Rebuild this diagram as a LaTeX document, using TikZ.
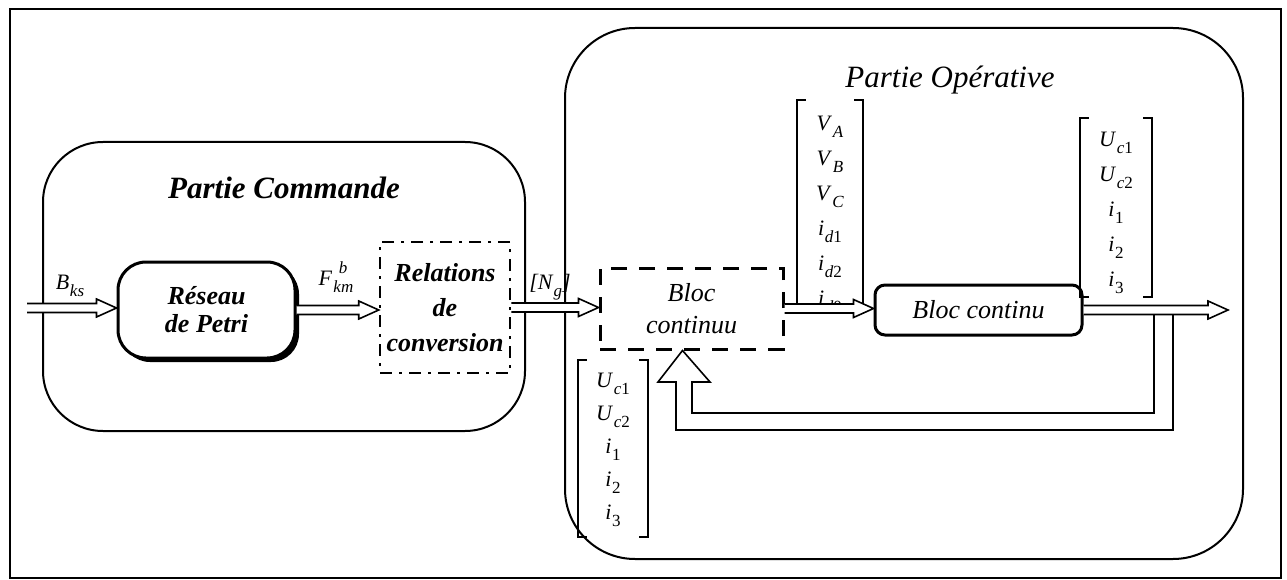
\documentclass[tikz,border=0pt]{standalone}
\usepackage{fontspec}
\setmainfont{Liberation Serif}
\usetikzlibrary{calc}
\newcommand{\fsz}[2]{\fontsize{#1}{#2}\selectfont}
\newcommand{\myvar}[2]{\textit{#1}\kern0.03em\raisebox{-0.3em}{\fsz{17}{17}#2}}
\begin{document}
\begin{tikzpicture}[x=1pt,y=-1pt,
  framebox/.style={line width=2.5pt},
  partbox/.style={line width=2pt, rounded corners=#1},
  blk/.style={draw, line width=3pt, align=center, inner sep=0pt, fill=white},
  hollow/.style={draw, fill=white, line width=1.6pt, line join=miter,
    to path={let \p1=(\tikztostart), \p2=(\tikztotarget) in
      (\x1,\y1+4.5pt) -- (\x2-20pt,\y1+4.5pt) -- (\x2-20pt,\y1+9pt) -- (\x2,\y1)
      -- (\x2-20pt,\y1-9pt) -- (\x2-20pt,\y1-4.5pt) -- (\x1,\y1-4.5pt)}},
  vecbox/.style={inner sep=0pt},
  brk/.style={line width=1.5pt},
  veclbl/.style={anchor=north, inner sep=0pt, align=center},
  lbl/.style={inner sep=0pt, font=\fsz{22}{24}}
]
\useasboundingbox (0,0) rectangle (1287,580);

% outer frame
\draw[framebox] (10,9) rectangle (1281,578);

% the two parts
\draw[partbox=60pt] (43,142) rectangle (525,431);
\draw[partbox=70pt] (565,28) rectangle (1243,559);
\node[font=\fsz{31}{34}\bfseries\itshape] (tPC) at (284,188) {Partie Commande};
\node[font=\fsz{31}{34}\itshape] (tPO) at (950,80) {Partie Opérative};

% blocks
\fill[black, rounded corners=28pt] (122,266) rectangle (299,362);
\node[blk, rounded corners=28pt, minimum width=177pt, minimum height=96pt,
      font=\fsz{26}{28}\bfseries\itshape] (petri) at (206.5,310) {Réseau\\de Petri};
\node[blk, line width=2.5pt, dash pattern=on 12pt off 7pt on 3pt off 7pt,
      minimum width=130pt, minimum height=131pt,
      font=\fsz{26}{35}\bfseries\itshape] (rel) at (445,307.5) {Relations\\de\\conversion};
\node[blk, dash pattern=on 16pt off 12pt, minimum width=183pt, minimum height=81pt,
      font=\fsz{26}{32}\itshape] (blocA) at (691.5,308.5) {Bloc\\continuu};
\node[blk, rounded corners=10pt, minimum width=207pt, minimum height=50pt,
      font=\fsz{26}{28}\itshape] (blocB) at (978.5,310) {Bloc continu};

% vectors
\node[vecbox, minimum width=66pt, minimum height=207pt] (vA) at (830,203.5) {};
\draw[brk] ([xshift=9pt]vA.north west) -- (vA.north west) -- (vA.south west) -- ([xshift=9pt]vA.south west);
\draw[brk] ([xshift=-9pt]vA.north east) -- (vA.north east) -- (vA.south east) -- ([xshift=-9pt]vA.south east);
\node[veclbl, font=\fsz{22}{35}] (vAt) at (830,116)
  {\myvar{V}{\textit{A}}\\\myvar{V}{\textit{B}}\\\myvar{V}{\textit{C}}\\\myvar{i}{\textit{d}1}\\\myvar{i}{\textit{d}2}\\\myvar{i}{\textit{d}0}};

\node[vecbox, minimum width=72pt, minimum height=179pt] (vB) at (1116,207.5) {};
\draw[brk] ([xshift=9pt]vB.north west) -- (vB.north west) -- (vB.south west) -- ([xshift=9pt]vB.south west);
\draw[brk] ([xshift=-9pt]vB.north east) -- (vB.north east) -- (vB.south east) -- ([xshift=-9pt]vB.south east);
\node[veclbl, font=\fsz{22}{35}] (vBt) at (1116,132)
  {\myvar{U}{\textit{c}1}\\\myvar{U}{\textit{c}2}\\\myvar{i}{1}\\\myvar{i}{2}\\\myvar{i}{3}};

\node[vecbox, minimum width=70pt, minimum height=177pt] (vC) at (613,448.5) {};
\draw[brk] ([xshift=9pt]vC.north west) -- (vC.north west) -- (vC.south west) -- ([xshift=9pt]vC.south west);
\draw[brk] ([xshift=-9pt]vC.north east) -- (vC.north east) -- (vC.south east) -- ([xshift=-9pt]vC.south east);
\node[veclbl, font=\fsz{22}{33}] (vCt) at (613,373)
  {\myvar{U}{\textit{c}1}\\\myvar{U}{\textit{c}2}\\\myvar{i}{1}\\\myvar{i}{2}\\\myvar{i}{3}};

% connectors
\coordinate (in) at (27,308);
\coordinate (out) at (1228,310);
\draw[hollow] (in) to (petri.west);
\draw[hollow] (petri.east) to (rel.west);
\draw[hollow] (rel.east) to (blocA.west);
\draw[hollow] (blocA.east) to (blocB.west);
\draw[hollow] (blocB.east) to (out);

% feedback
\coordinate (fbtip) at ([xshift=84pt]blocA.south west);
\draw[line width=1.6pt, line join=miter]
  (1154,314) -- (1154,413) -- (692,413) -- (692,382) -- (710,382) -- (fbtip)
  -- (658,382) -- (676,382) -- (676,430) -- (1173,430) -- (1173,314);

% labels
\node[lbl] (lB) at (70,286) {\myvar{B}{\textit{ks}}};
\node[lbl] (lF) at (336,277) {\textit{F}\kern0.05em\rlap{\hspace{0.25em}\raisebox{0.55em}{\fsz{17}{17}\textit{b}}}\raisebox{-0.3em}{\fsz{17}{17}\textit{km}}};
\node[lbl] (lN) at (550,287) {\textit{[N}\raisebox{-0.3em}{\fsz{17}{17}\textit{g}}\textit{]}};
\end{tikzpicture}
\end{document}
